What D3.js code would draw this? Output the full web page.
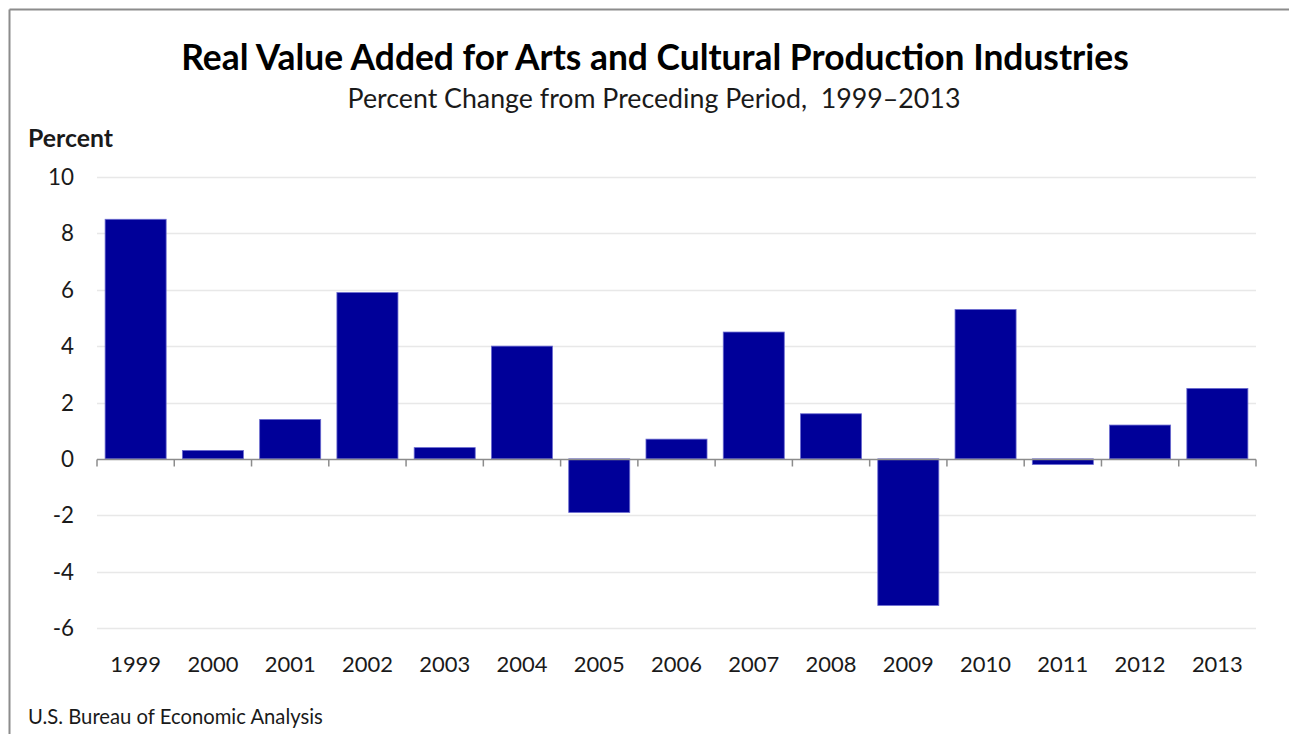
<!DOCTYPE html>
<html>
<head>
<meta charset="utf-8">
<script src="https://cdn.jsdelivr.net/npm/d3@7"></script>
<style>
  html, body { margin: 0; padding: 0; background: #fff; }
  svg { display: block; }
  text { font-family: Lato, "Open Sans", sans-serif; }
</style>
</head>
<body>
<svg id="chart" width="1289" height="734"></svg>
<script>
const years = ["1999","2000","2001","2002","2003","2004","2005","2006","2007","2008","2009","2010","2011","2012","2013"];
const values = [8.5, 0.3, 1.4, 5.9, 0.4, 4.0, -1.9, 0.7, 4.5, 1.6, -5.2, 5.3, -0.2, 1.2, 2.5];
const yTicks = [10, 8, 6, 4, 2, 0, -2, -4, -6];
const titleText = "Real Value Added for Arts and Cultural Production Industries";
const subtitleText = "Percent Change from Preceding Period,  1999\u20132013";
const yAxisLabel = "Percent";
const sourceText = "U.S. Bureau of Economic Analysis";

const svg = d3.select("#chart");
const W = 1289, H = 734;

// frame (top and left border)
svg.append("line").attr("x1", 9.5).attr("x2", W).attr("y1", 9.5).attr("y2", 9.5)
  .attr("stroke", "#8c8c8c").attr("stroke-width", 2);
svg.append("line").attr("x1", 9.5).attr("x2", 9.5).attr("y1", 9.5).attr("y2", H)
  .attr("stroke", "#8c8c8c").attr("stroke-width", 2);

const x = d3.scaleBand().domain(years).range([97, 1256]).paddingInner(0.21).paddingOuter(0.105);
const y = d3.scaleLinear().domain([-6, 10]).range([628, 177]);

function fit(sel, target) {
  const w = sel.node().getComputedTextLength();
  const fs = parseFloat(sel.attr("font-size"));
  const nfs = fs * target / w;
  sel.attr("font-size", nfs);
  return nfs;
}

// gridlines
svg.append("g").selectAll("line").data(yTicks.filter(d => d !== 0)).join("line")
  .attr("x1", 97).attr("x2", 1256)
  .attr("y1", d => Math.round(y(d)) + 0.5).attr("y2", d => Math.round(y(d)) + 0.5)
  .attr("stroke", "#e8e8e8").attr("stroke-width", 1.5);

// y tick labels
const probe = svg.append("text").attr("font-size", 18).text("10");
const yfs = fit(probe, 26);
probe.remove();
svg.append("g").selectAll("text").data(yTicks).join("text")
  .attr("x", 74).attr("y", d => y(d)).attr("dy", "0.36em")
  .attr("text-anchor", "end").attr("font-size", yfs).attr("fill", "#1a1a1a")
  .text(d => d);

// bars
svg.append("g").selectAll("rect").data(values).join("rect")
  .attr("x", (d, i) => x(years[i]))
  .attr("width", x.bandwidth())
  .attr("y", d => y(Math.max(0, d)))
  .attr("height", d => Math.abs(y(d) - y(0)))
  .attr("fill", "#000099")
  .attr("stroke", "#6b6bd0").attr("stroke-width", 0.8);

// zero axis with ticks
const zero = Math.round(y(0)) + 0.5;
const ax = svg.append("g");
ax.append("line").attr("x1", 97).attr("x2", 1256).attr("y1", zero).attr("y2", zero)
  .attr("stroke", "#8c8c8c").attr("stroke-width", 1.5);
ax.selectAll("line.t").data(d3.range(years.length + 1)).join("line").attr("class", "t")
  .attr("x1", i => 97 + i * x.step())
  .attr("x2", i => 97 + i * x.step())
  .attr("y1", zero).attr("y2", zero + 7)
  .attr("stroke", "#8c8c8c").attr("stroke-width", 1.5);

// year labels
svg.append("g").selectAll("text").data(years).join("text")
  .attr("x", d => x(d) + x.bandwidth() / 2).attr("y", 672)
  .attr("text-anchor", "middle").attr("font-size", 18).attr("fill", "#1a1a1a")
  .each(function(d) { d3.select(this).text(d); fit(d3.select(this), 51); });

// title
const t = svg.append("text").attr("x", 655).attr("y", 70).attr("text-anchor", "middle")
  .attr("font-weight", "bold").attr("font-size", 30).attr("fill", "#000").text(titleText);
fit(t, 948);
const st = svg.append("text").attr("x", 654).attr("y", 108).attr("text-anchor", "middle")
  .style("white-space", "pre")
  .attr("font-size", 20).attr("fill", "#1a1a1a").text(subtitleText);
fit(st, 613);

const yl = svg.append("text").attr("x", 28).attr("y", 147)
  .attr("font-weight", "bold").attr("font-size", 18).attr("fill", "#1a1a1a").text(yAxisLabel);
fit(yl, 85);

const src = svg.append("text").attr("x", 28).attr("y", 724)
  .attr("font-size", 15).attr("fill", "#1a1a1a").text(sourceText);
fit(src, 295);
</script>
</body>
</html>
